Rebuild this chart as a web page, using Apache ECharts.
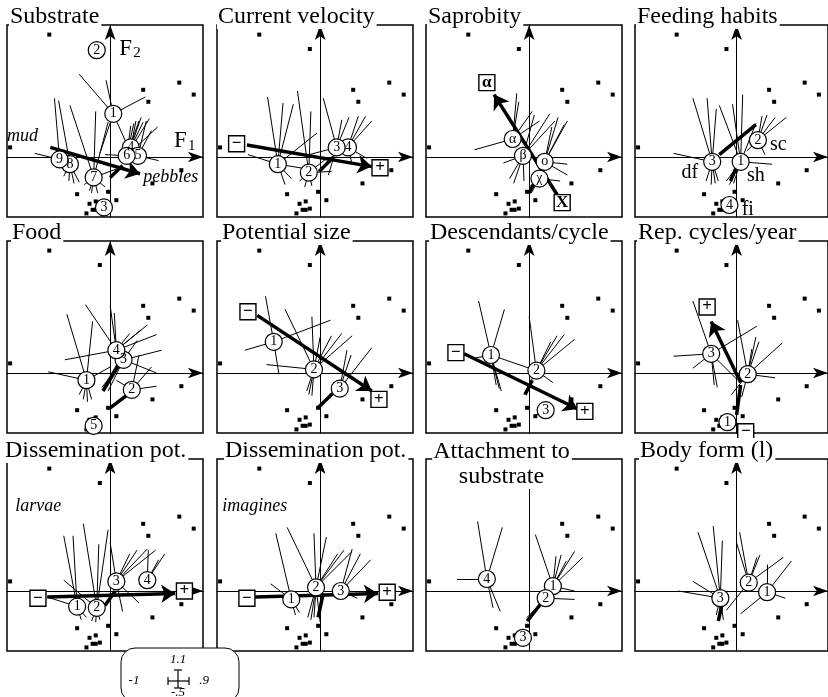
<!DOCTYPE html>
<html><head><meta charset="utf-8">
<script src="https://cdn.jsdelivr.net/npm/echarts@6/dist/echarts.min.js"></script>
<style>html,body{margin:0;padding:0;background:#fff}#c{width:828px;height:697px}</style>
</head><body><div id="c"></div>
<script>
// species points shown as small squares (same in all panels)
const points = [[-0.59,1.02],[-0.10,0.90],[0.67,0.62],[0.81,0.52],[0.32,0.56],[0.37,0.46],[-0.97,0.08],[0.69,-0.11],[0.41,-0.22],[-0.32,-0.31],[-0.02,-0.29],[0.06,-0.36],[-0.20,-0.39],[-0.14,-0.37],[-0.17,-0.44],[-0.14,-0.44],[-0.10,-0.43],[-0.23,-0.47]];

const titles = ['Substrate','Current velocity','Saprobity','Feeding habits','Food','Potential size','Descendants/cycle','Rep. cycles/year','Dissemination pot.','Dissemination pot.','Attachment to\nsubstrate','Body form (l)'];

// Substrate
const substrateCats = [['2',-0.13,0.89],['3',-0.06,-0.42],['1',0.03,0.36],['4',0.20,0.08],['5',0.27,0.01],['6',0.16,0.01],['8',-0.39,-0.06],['9',-0.49,-0.02],['7',-0.16,-0.17]];
const substrateStars = [[],[[-0.12,-0.36],[0.01,-0.37]],[[-0.30,0.69],[-0.04,0.64],[0.34,0.50],[0.16,0.11],[-0.10,0.03]],[[0.30,0.33],[0.25,0.30]],[[0.47,-0.03],[0.40,0.22],[0.35,0.30]],[[0.23,0.28],[0.28,0.30],[0.32,0.29],[0.38,0.32],[0.46,0.25],[0.20,0.26],[-0.05,0.02]],[[-0.40,-0.20],[-0.35,-0.22],[-0.30,-0.21],[-0.45,-0.16],[-0.50,0.47]],[[-0.54,0.49],[-0.73,0.03]],[[-0.39,0.43],[-0.14,0.38],[-0.02,0.29],[-0.20,-0.28],[-0.12,-0.30],[-0.25,-0.23],[-0.05,-0.25],[-0.18,-0.30],[0.06,-0.10]]];
const substrateArrows = [[-0.58,0.08,0.29,-0.14]];
const substrateSegs = [[0.0,-0.17,0.12,-0.07]];
const substrateBoxes = [];
const substrateTexts = [['mud',-1.0,0.17,'left',18,'italic'],['pebbles',0.32,-0.17,'left',18,'italic'],['F',0.68,0.13,'center',23,'normal'],['1',0.79,0.09,'center',15,'normal'],['F',0.15,0.90,'center',23,'normal'],['2',0.26,0.87,'center',15,'normal']];

// Current velocity
const velocityCats = [['1',-0.41,-0.06],['2',-0.11,-0.13],['4',0.27,0.08],['3',0.16,0.08]];
const velocityStars = [[[-0.51,0.50],[-0.36,0.45],[-0.26,0.44],[-0.03,0.20],[-0.70,0.02],[-0.34,-0.23],[-0.28,-0.18],[-0.12,-0.10]],[[-0.22,0.55],[-0.09,0.38],[-0.15,-0.25],[-0.08,-0.24],[-0.20,-0.20],[0.11,-0.12],[0.05,-0.02]],[[0.37,0.34],[0.44,0.34],[0.50,0.30],[0.45,-0.01],[0.31,-0.06]],[[0.03,0.49],[0.21,0.31],[0.28,0.33],[-0.15,0.01],[0.08,-0.15]]];
const velocityArrows = [[-0.71,0.10,0.50,-0.08]];
const velocitySegs = [[-0.01,-0.12,0.13,0.0]];
const velocityBoxes = [['−',-0.81,0.11],['+',0.58,-0.09]];
const velocityTexts = [];

// Saprobity
const saprobityCats = [['α',-0.16,0.15],['β',-0.06,0.01],['χ',0.10,-0.18],['ο',0.15,-0.04]];
const saprobityStars = [[[-0.12,0.53],[-0.10,0.46],[-0.53,0.06],[0.03,0.38],[0.10,0.30]],[[-0.19,-0.18],[-0.15,-0.22],[-0.25,-0.05],[-0.05,-0.20],[0.25,0.30],[0.05,0.35],[0.20,0.36]],[[0.02,-0.30],[0.0,-0.25],[0.30,-0.20]],[[0.28,0.33],[0.34,0.27],[0.37,0.30],[0.37,-0.06],[0.37,-0.15],[0.22,0.25]]];
const saprobityArrows = [[0.29,-0.34,-0.34,0.52]];
const saprobitySegs = [[0.0,-0.30,0.06,-0.20]];
const saprobityBoxes = [['α',-0.41,0.62],['X',0.32,-0.38]];
const saprobityTexts = [];

// Feeding habits
const feedingCats = [['4',-0.07,-0.40],['3',-0.24,-0.04],['1',0.04,-0.04],['2',0.21,0.14]];
const feedingStars = [[],[[-0.43,0.49],[-0.29,0.49],[-0.20,0.40],[-0.62,0.03],[-0.25,-0.23],[-0.21,-0.22],[-0.18,-0.20],[-0.30,-0.20]],[[-0.17,0.43],[-0.04,0.44],[0.06,0.52],[0.35,-0.06],[-0.07,-0.23],[-0.03,-0.22],[-0.10,-0.20],[0.19,0.28]],[[0.25,0.34],[0.30,0.35],[0.38,0.33],[0.49,0.33],[0.28,0.02],[0.10,0.05]]];
const feedingArrows = [];
const feedingSegs = [[-0.17,0.02,0.19,0.27],[-0.06,-0.20,0.0,-0.08]];
const feedingBoxes = [];
const feedingTexts = [['df',-0.46,-0.13,'center',20,'normal'],['sh',0.19,-0.16,'center',20,'normal'],['sc',0.41,0.10,'center',20,'normal'],['fi',0.11,-0.44,'center',20,'normal']];

// Food
const foodCats = [['5',-0.16,-0.44],['1',-0.23,-0.06],['2',0.21,-0.14],['3',0.13,0.11],['4',0.06,0.19]];
const foodStars = [[],[[-0.42,0.49],[-0.17,0.43],[-0.60,0.01],[-0.26,-0.22],[-0.22,-0.24],[-0.18,-0.22],[-0.30,-0.18],[0.0,0.05]],[[0.45,-0.11],[0.28,0.15],[0.0,-0.29],[0.06,-0.06],[0.40,0.05]],[[0.50,0.19],[0.26,0.27],[0.45,0.0],[-0.05,-0.14],[-0.08,-0.12],[-0.02,-0.15]],[[-0.24,0.57],[0.0,0.56],[0.04,0.50],[0.19,0.33],[0.36,0.40],[0.45,0.32],[0.30,0.36],[-0.44,0.11]]];
const foodArrows = [];
const foodSegs = [[-0.07,-0.15,0.10,0.10],[0.0,-0.29,0.17,-0.18]];
const foodBoxes = [];
const foodTexts = [];

// Potential size
const sizeCats = [['1',-0.45,0.26],['2',-0.06,0.03],['3',0.19,-0.13]];
const sizeStars = [[[-0.53,0.64],[-0.73,0.19],[0.10,0.44],[-0.40,-0.01]],[[-0.34,0.53],[-0.08,0.47],[-0.52,0.07],[0.11,0.31],[0.21,0.33],[0.31,0.31],[-0.11,-0.18],[-0.08,-0.19],[-0.13,-0.15],[0.0,0.30]],[[0.26,0.19],[0.50,0.21],[0.30,0.15],[-0.02,-0.29]]];
const sizeArrows = [[-0.61,0.48,0.50,-0.15]];
const sizeSegs = [[-0.02,-0.29,0.12,-0.17]];
const sizeBoxes = [['−',-0.70,0.51],['+',0.57,-0.22]];
const sizeTexts = [];

// Descendants/cycle
const descCats = [['1',-0.37,0.15],['2',0.07,0.02],['3',0.16,-0.31]];
const descStars = [[[-0.49,0.60],[-0.24,0.53],[-0.29,-0.13],[-0.32,-0.10],[-0.27,-0.15],[-0.55,0.12],[0.0,0.04]],[[0.0,0.47],[0.21,0.26],[0.27,0.31],[0.34,0.32],[0.44,0.28],[0.23,-0.08],[-0.05,-0.18]],[[0.05,-0.36]]];
const descArrows = [[-0.63,0.16,0.47,-0.30]];
const descSegs = [[-0.04,-0.18,0.03,-0.06]];
const descBoxes = [['−',-0.71,0.17],['+',0.54,-0.32]];
const descTexts = [];

// Rep. cycles/year
const cyclesCats = [['1',-0.09,-0.41],['3',-0.25,0.16],['2',0.11,-0.01]];
const cyclesStars = [[],[[-0.43,0.60],[-0.62,0.14],[0.20,0.39],[-0.22,-0.10],[-0.19,-0.12],[-0.43,0.04],[0.0,-0.05]],[[0.01,0.44],[0.45,0.25],[0.22,0.26],[0.19,0.30],[0.15,0.20],[0.38,-0.04],[0.05,-0.20],[-0.05,-0.18]]];
const cyclesArrows = [[0.04,-0.08,-0.25,0.43]];
const cyclesSegs = [[0.0,-0.35,0.04,-0.10]];
const cyclesBoxes = [['+',-0.29,0.55],['−',0.09,-0.49]];
const cyclesTexts = [];

// Dissemination pot. larvae
const larvaeCats = [['1',-0.32,-0.13],['2',-0.13,-0.14],['4',0.36,0.09],['3',0.06,0.08]];
const larvaeStars = [[[-0.45,0.46],[-0.36,0.46],[-0.61,-0.05],[-0.28,-0.24],[-0.23,-0.22]],[[-0.26,0.56],[-0.11,0.39],[-0.02,0.51],[-0.18,-0.25],[-0.14,-0.26],[-0.10,-0.24],[-0.45,0.09]],[[0.53,0.31],[0.37,0.34],[0.47,0.26]],[[0.19,0.31],[0.26,0.34],[0.36,0.35],[0.44,0.34],[0.0,0.40],[0.28,-0.10],[0.12,-0.17]]];
const larvaeArrows = [[-0.61,-0.05,0.63,-0.02]];
const larvaeSegs = [[-0.05,-0.12,0.05,0.0]];
const larvaeBoxes = [['−',-0.70,-0.06],['+',0.72,0.0]];
const larvaeTexts = [['larvae',-0.92,0.71,'left',18,'italic']];

// Dissemination pot. imagines
const imaginesCats = [['1',-0.28,-0.07],['2',-0.04,0.03],['3',0.20,0.0]];
const imaginesStars = [[[-0.43,0.48],[-0.48,0.06],[-0.20,-0.18],[-0.24,-0.20]],[[-0.32,0.53],[-0.06,0.48],[0.06,0.45],[0.17,0.31],[0.23,0.34],[0.31,0.33],[-0.12,-0.22],[-0.09,-0.24],[-0.06,-0.22],[0.0,-0.26]],[[0.39,0.31],[0.49,0.26],[0.36,-0.06],[0.31,0.35]]];
const imaginesArrows = [[-0.63,-0.05,0.56,-0.02]];
const imaginesSegs = [[-0.02,-0.22,0.03,-0.02]];
const imaginesBoxes = [['−',-0.71,-0.06],['+',0.65,-0.01]];
const imaginesTexts = [['imagines',-0.95,0.71,'left',18,'italic']];

// Attachment to substrate
const attachCats = [['3',-0.06,-0.39],['4',-0.41,0.10],['1',0.23,0.04],['2',0.16,-0.06]];
const attachStars = [[],[[-0.50,0.58],[-0.26,0.53],[-0.70,0.10],[-0.28,-0.17],[-0.35,-0.14]],[[0.06,0.47],[0.26,0.29],[0.31,0.30],[0.44,0.33],[0.52,0.28],[0.44,0.0],[0.36,0.25]],[[0.44,-0.07],[-0.02,-0.22],[0.0,-0.25]]];
const attachArrows = [];
const attachSegs = [[-0.02,-0.25,0.12,-0.10]];
const attachBoxes = [];
const attachTexts = [];

// Body form (l)
const bodyCats = [['3',-0.16,-0.06],['2',0.12,0.07],['1',0.30,-0.01]];
const bodyStars = [[[-0.38,0.49],[-0.23,0.54],[-0.14,0.42],[-0.57,0.0],[-0.43,0.08],[-0.17,-0.22],[-0.13,-0.24],[-0.20,-0.20]],[[0.03,0.49],[0.20,0.28],[0.23,0.30],[0.46,0.28],[-0.10,-0.16],[0.0,0.40]],[[0.54,0.25],[0.30,0.22],[0.04,-0.19],[0.48,-0.06]]];
const bodyArrows = [];
const bodySegs = [[-0.18,-0.25,-0.14,-0.10]];
const bodyBoxes = [];
const bodyTexts = [];

const panelData = [
  [substrateCats, substrateStars, substrateArrows, substrateSegs, substrateBoxes, substrateTexts],
  [velocityCats, velocityStars, velocityArrows, velocitySegs, velocityBoxes, velocityTexts],
  [saprobityCats, saprobityStars, saprobityArrows, saprobitySegs, saprobityBoxes, saprobityTexts],
  [feedingCats, feedingStars, feedingArrows, feedingSegs, feedingBoxes, feedingTexts],
  [foodCats, foodStars, foodArrows, foodSegs, foodBoxes, foodTexts],
  [sizeCats, sizeStars, sizeArrows, sizeSegs, sizeBoxes, sizeTexts],
  [descCats, descStars, descArrows, descSegs, descBoxes, descTexts],
  [cyclesCats, cyclesStars, cyclesArrows, cyclesSegs, cyclesBoxes, cyclesTexts],
  [larvaeCats, larvaeStars, larvaeArrows, larvaeSegs, larvaeBoxes, larvaeTexts],
  [imaginesCats, imaginesStars, imaginesArrows, imaginesSegs, imaginesBoxes, imaginesTexts],
  [attachCats, attachStars, attachArrows, attachSegs, attachBoxes, attachTexts],
  [bodyCats, bodyStars, bodyArrows, bodySegs, bodyBoxes, bodyTexts]
];

// layout
const lefts = [7, 217, 426, 635];
const tops = [25, 241, 459];
const GW = 196, GH = 192;
const titleX = [9, 217, 427, 636, 11, 221, 429, 637, 4, 224, 502, 639];
const SERIF = '"Liberation Serif", "Times New Roman", serif';

const grids = [], xAxes = [], yAxes = [], series = [], graphics = [];
panelData.forEach((p, i) => {
  const col = i % 4, row = Math.floor(i / 4);
  const [cats, stars, arrows, segs, boxes, texts] = p;
  grids.push({left: lefts[col], top: tops[row], width: GW, height: GH, show: true, borderColor: '#000', borderWidth: 1.5, backgroundColor: 'transparent'});
  const axisCommon = {gridIndex: i, type: 'value', axisTick: {show: false}, axisLabel: {show: false}, splitLine: {show: false},
    axisLine: {onZero: true, symbol: ['none', 'arrow'], symbolSize: [8, 15], lineStyle: {color: '#000', width: 1}}};
  xAxes.push(Object.assign({}, axisCommon, {min: -1, max: 0.9}));
  yAxes.push(Object.assign({}, axisCommon, {min: -0.5, max: 1.1}));
  const base = {xAxisIndex: i, yAxisIndex: i, silent: true, animation: false, emphasis: {disabled: true}};
  series.push(Object.assign({type: 'scatter', data: points, symbol: 'rect', symbolSize: 4, itemStyle: {color: '#000', opacity: 1}, z: 1}, base));
  const starLines = [];
  cats.forEach((c, k) => (stars[k] || []).forEach(e => starLines.push({coords: [[c[1], c[2]], [e[0], e[1]]]})));
  series.push(Object.assign({type: 'lines', coordinateSystem: 'cartesian2d', data: starLines, symbol: 'none', lineStyle: {color: '#000', width: 1, opacity: 1}, z: 2}, base));
  series.push(Object.assign({type: 'lines', coordinateSystem: 'cartesian2d', data: arrows.map(a => ({coords: [[a[0], a[1]], [a[2], a[3]]]})), symbol: ['none', 'arrow'], symbolSize: 14, lineStyle: {color: '#000', width: 3.5, opacity: 1}, z: 3}, base));
  series.push(Object.assign({type: 'lines', coordinateSystem: 'cartesian2d', data: segs.map(a => ({coords: [[a[0], a[1]], [a[2], a[3]]]})), symbol: 'none', lineStyle: {color: '#000', width: 3.5, opacity: 1}, z: 3}, base));
  series.push(Object.assign({type: 'scatter', data: cats.map(c => ({value: [c[1], c[2]], name: c[0]})), symbol: 'circle', symbolSize: 17,
    itemStyle: {color: '#fff', borderColor: '#000', borderWidth: 1.2, opacity: 1},
    label: {show: true, position: 'inside', formatter: '{b}', fontFamily: SERIF, fontSize: 14, color: '#000'}, z: 4}, base));
  series.push(Object.assign({type: 'scatter', data: boxes.map(c => ({value: [c[1], c[2]], name: c[0]})), symbol: 'rect', symbolSize: 16,
    itemStyle: {color: '#fff', borderColor: '#000', borderWidth: 1.4, opacity: 1},
    label: {show: true, position: 'inside', formatter: '{b}', fontFamily: SERIF, fontSize: 17, fontWeight: 'bold', color: '#000'}, z: 5}, base));
  series.push(Object.assign({type: 'scatter', data: texts.map(t => ({value: [t[1], t[2]], name: t[0],
      label: {align: t[3], fontSize: t[4], fontStyle: t[5]}})), symbol: 'circle', symbolSize: 1,
    itemStyle: {color: 'rgba(0,0,0,0)', opacity: 1},
    label: {show: true, position: 'inside', formatter: '{b}', fontFamily: SERIF, color: '#000', verticalAlign: 'middle'}, z: 6}, base));
  // title
  const multi = titles[i].indexOf('\n') >= 0;
  graphics.push({type: 'text', x: titleX[i], y: multi ? tops[row] - 20 : tops[row] + 4, z: 100,
    style: {text: titles[i], font: '24px ' + SERIF, fill: '#000', align: multi ? 'center' : 'left', verticalAlign: multi ? 'top' : 'bottom',
      lineHeight: 25, backgroundColor: '#fff', padding: [0, 2, 0, 1]}});
});

// scale legend box
graphics.push({type: 'group', z: 100, children: [
  {type: 'rect', shape: {x: 121, y: 648, width: 118, height: 54, r: 14}, style: {fill: '#fff', stroke: '#000', lineWidth: 1}},
  {type: 'text', x: 178, y: 660, style: {text: '1.1', font: 'italic 13px ' + SERIF, fill: '#000', align: 'center', verticalAlign: 'middle'}},
  {type: 'text', x: 134, y: 681, style: {text: '-1', font: 'italic 13px ' + SERIF, fill: '#000', align: 'center', verticalAlign: 'middle'}},
  {type: 'text', x: 204, y: 681, style: {text: '.9', font: 'italic 13px ' + SERIF, fill: '#000', align: 'center', verticalAlign: 'middle'}},
  {type: 'text', x: 178, y: 693, style: {text: '-.5', font: 'italic 13px ' + SERIF, fill: '#000', align: 'center', verticalAlign: 'middle'}},
  {type: 'line', shape: {x1: 168, y1: 681, x2: 189, y2: 681}, style: {stroke: '#000', lineWidth: 1.2}},
  {type: 'line', shape: {x1: 168, y1: 677, x2: 168, y2: 685}, style: {stroke: '#000', lineWidth: 1.2}},
  {type: 'line', shape: {x1: 189, y1: 677, x2: 189, y2: 685}, style: {stroke: '#000', lineWidth: 1.2}},
  {type: 'line', shape: {x1: 178, y1: 670, x2: 178, y2: 688}, style: {stroke: '#000', lineWidth: 1.2}},
  {type: 'line', shape: {x1: 174, y1: 670, x2: 182, y2: 670}, style: {stroke: '#000', lineWidth: 1.2}},
  {type: 'line', shape: {x1: 174, y1: 688, x2: 182, y2: 688}, style: {stroke: '#000', lineWidth: 1.2}}
]});

const chart = echarts.init(document.getElementById('c'), null, {renderer: 'canvas'});
chart.setOption({animation: false, backgroundColor: '#fff', grid: grids, xAxis: xAxes, yAxis: yAxes, series: series, graphic: graphics});
</script></body></html>
